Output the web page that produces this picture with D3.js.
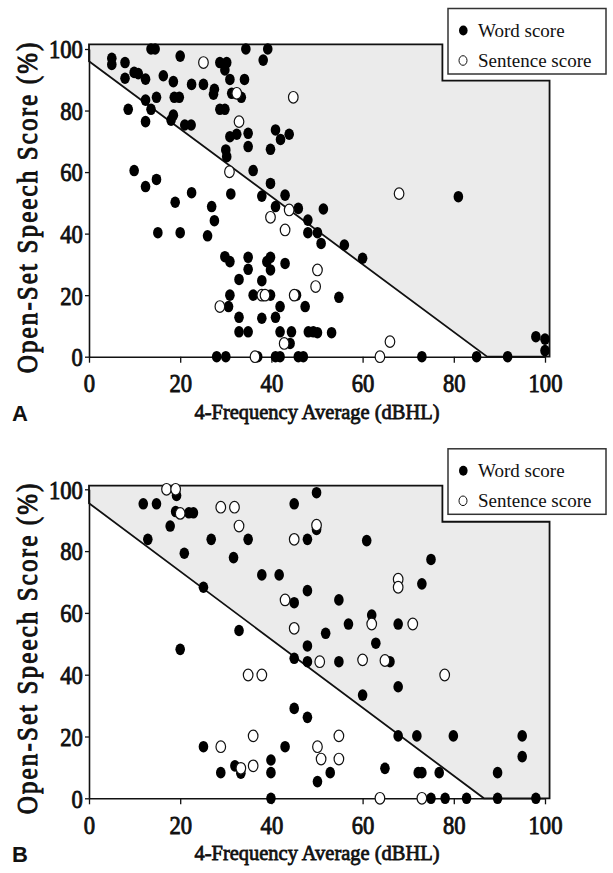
<!DOCTYPE html>
<html>
<head>
<meta charset="utf-8">
<script src="https://cdn.jsdelivr.net/npm/d3@7"></script>
<style>
  body { margin: 0; background: #fff; }
  svg { display: block; }
</style>
</head>
<body>
<script>
// [4-frequency average dBHL, open-set score %]
const wordA = [
  [5,97],[5,95],[7.9,95.6],[7.9,90.5],[9.9,92.4],[10.8,92],[12.4,90.2],[12.4,83.4],[13.6,100],[14.5,100],
  [14.8,84.3],[13.6,80.4],[8.6,80.4],[12.4,76.4],[16.3,91.3],[18.5,89.4],[18.7,84.3],[19.8,84.3],[18.5,78.5],[18,76.9],
  [20,97.7],[21,75.3],[22.4,75.3],[22.5,88.5],[25.1,88.5],[27.5,86.9],[27.3,85.3],[28.7,95.6],[30.2,95.6],[29.8,93.2],
  [30.9,90.1],[31.3,85.6],[33.4,84.3],[34.1,90.1],[28.7,80.4],[29.8,80.4],[30.9,71.5],[32.4,72.3],[34.9,72.6],[34.9,68.3],
  [30,67.2],[30.2,65],[36,60.5],[39.8,67.4],[40.9,73.7],[42,70.6],[43.9,72.3],[39.8,56.3],[37.9,52.2],[43,52.5],
  [40.9,48.8],[45.9,48.2],[48,44.4],[48,40.3],[31.1,52.9],[34.4,100],[39.2,100],[38.2,96.4],[9.9,60.5],[12.4,55.3],
  [14.8,57.6],[18.9,50.2],[22.5,53.3],[26.9,48.8],[27.5,44.2],[15.1,40.3],[20,40.3],[26,39.3],[29.8,32.5],[30.9,30.9],
  [34.9,32.3],[34.9,28.4],[32.9,25.1],[39,30.9],[39.8,32.3],[39.8,28.2],[43,30.3],[37.9,24.7],[30.9,20],[36,20],
  [39.8,20],[30.6,16.3],[32.9,12.8],[37.9,12.5],[40.9,12.8],[41.9,16.3],[45.5,20],[47.4,16.3],[32.9,8.1],[34.9,8.1],
  [41.9,8.1],[44.4,8.1],[44.1,4.3],[48.1,8.1],[49.2,8.1],[28,0],[30,0],[37,0],[40.9,0],[41.9,0],
  [45.9,0],[47,0],[81,52],[51.4,48],[50.1,40.3],[50.9,36.8],[56,36.3],[60,32],[54.8,19.3],[50.1,7.8],
  [53.2,7.8],[73,0],[85,0],[91.8,0],[98,6.5],[100,5.7],[100,2]
];
const sentA = [
  [25.1,95.6],[32.9,76.4],[30.8,60.1],[43.9,47.7],[39.8,45.3],[43,41.2],[28.7,16.3],[37.9,20],[38.6,20],[45,20],
  [50.1,28.2],[49.7,22.8],[68,53],[66,4.9],[63.8,0],[44.8,84.3],[36.4,0],[32.4,85.6],[42.8,4.3]
];
const wordB = [
  [11.9,95.3],[14.8,95.3],[19.2,98],[19,92.8],[21.9,92.4],[22.9,92.4],[17.8,88.1],[12.9,83.8],[20.9,79.3],[26.8,83.8],
  [34.9,83.8],[31.7,77.9],[37.9,72.3],[41.7,72.3],[25.1,68.3],[32.9,54.3],[20,48.2],[45,95.3],[49.9,98.9],[47.9,83.8],
  [49.9,87],[47.9,67.2],[45,63.3],[47.9,49.3],[45,45.3],[47.9,44.2],[45,29.1],[47.9,26.2],[25.1,16.7],[43,16.7],
  [28.9,8.3],[32,10.5],[33.3,8.1],[39.9,12.4],[39.9,8.3],[39.9,0],[60.9,83.4],[75,77.3],[73,69.4],[54.8,64.2],
  [62,59.3],[56.9,56.4],[67.8,56.4],[51.9,53.4],[62.9,50.2],[54.8,44.2],[60,44.8],[66,44.2],[67.8,36.1],[60,33.4],
  [67.8,20.2],[71.9,20.2],[79.9,20.2],[95,20.2],[95,13.5],[52.9,8.3],[50.1,5.4],[64.9,9.7],[72.2,8.3],[73,8.3],
  [76.8,8.3],[89.6,8.3],[75,0],[78.1,0],[82.8,0],[89.6,0],[98,0]
];
const sentB = [
  [17,100],[19,100],[20,92.2],[28.9,94.2],[31.9,94.2],[32.9,88.1],[45,83.8],[43,64.2],[45,55],[50.6,44.2],
  [34.9,39.9],[37.9,39.9],[36,20.2],[28.9,16.7],[33.3,9.7],[36,10.5],[67.8,70.9],[67.8,68.3],[62,56.4],[71,56.4],
  [60,44.8],[64.9,44.6],[78,39.9],[54.8,20.2],[50.1,16.7],[50.9,12.7],[54.8,12.7],[63.8,0],[73,0],[49.9,88.4]
];
const tickValues = [0, 20, 40, 60, 80, 100];
// outline of the shaded region (data units); last -> first edge is the diagonal
const regionA = [[0,96],[0,101.5],[77.5,101.5],[77.5,89.7],[101,89.7],[101,0],[87.3,0]];
const regionB = [[0,95.5],[0,101.2],[77.5,101.2],[77.5,89.5],[101,89.5],[101,0],[86.6,0]];
const legendLabels = ["Word score", "Sentence score"];

const serif = "'Liberation Serif', 'Times New Roman', serif";

const svg = d3.select("body").append("svg")
    .attr("width", 613)
    .attr("height", 873);

// bold face is faked with a thin stroke of the same colour
function boldSerif(sel, size, sw) {
  sel.style("font-family", serif)
    .style("font-weight", "normal")
    .style("font-size", size + "px")
    .attr("fill", "#111")
    .attr("stroke", "#111")
    .attr("stroke-width", sw);
}

function drawPanel(top, bottom, words, sents, region, letter) {
  const x = d3.scaleLinear().domain([0, 100]).range([89, 545]);
  const y = d3.scaleLinear().domain([0, 100]).range([bottom, top]);
  const g = svg.append("g");

  // shaded region
  const line = d3.line().x(d => x(d[0])).y(d => y(d[1]));
  g.append("path")
    .attr("d", line(region) + "Z")
    .attr("fill", "#ebebeb")
    .attr("stroke", "#111")
    .attr("stroke-width", 1.8)
    .attr("stroke-linejoin", "miter");

  // axes
  const xAxis = g.append("g")
    .attr("transform", `translate(0,${bottom})`)
    .call(d3.axisBottom(x).tickValues(tickValues).tickSize(6).tickSizeOuter(0));
  xAxis.selectAll("text")
    .attr("y", 17)
    .attr("dy", "0.71em")
    .attr("transform", "scale(0.87,1)");

  const yAxis = g.append("g")
    .attr("transform", "translate(89,0)")
    .call(d3.axisLeft(y).tickValues(tickValues).tickSize(4).tickPadding(3).tickSizeOuter(0));
  yAxis.selectAll("text")
    .attr("dy", "0.34em")
    .attr("transform", "scale(0.87,1)");

  g.selectAll(".domain").attr("stroke", "#111").attr("stroke-width", 1.6);
  g.selectAll(".tick line").attr("stroke", "#111").attr("stroke-width", 1.3);
  g.selectAll(".tick text").call(boldSerif, 26, 0.9);

  // points
  g.append("g").selectAll("ellipse")
    .data(words)
    .join("ellipse")
    .attr("cx", d => x(d[0]))
    .attr("cy", d => y(d[1]))
    .attr("rx", 4.8)
    .attr("ry", 5.8)
    .attr("fill", "#000");

  g.append("g").selectAll("ellipse")
    .data(sents)
    .join("ellipse")
    .attr("cx", d => x(d[0]))
    .attr("cy", d => y(d[1]))
    .attr("rx", 4.8)
    .attr("ry", 5.8)
    .attr("fill", "#fff")
    .attr("stroke", "#111")
    .attr("stroke-width", 1.2);

  // axis titles
  g.append("text")
    .attr("transform", `translate(317,${bottom + 62}) scale(0.93,1)`)
    .attr("text-anchor", "middle")
    .call(boldSerif, 22, 0.8)
    .text("4-Frequency Average (dBHL)");

  g.append("text")
    .attr("transform", `translate(37,${(top + bottom) / 2 + 4}) rotate(-90) scale(0.86,1)`)
    .attr("text-anchor", "middle")
    .call(boldSerif, 29, 1)
    .style("letter-spacing", "2.5px")
    .text("Open-Set Speech Score (%)");

  // panel letter
  g.append("text")
    .attr("x", 12)
    .attr("y", bottom + 64)
    .style("font-family", "'Liberation Sans', Arial, sans-serif")
    .style("font-weight", "bold")
    .style("font-size", "22px")
    .attr("fill", "#111")
    .text(letter);

  // legend
  const lg = g.append("g").attr("transform", `translate(448,${top - 40.5})`);
  lg.append("rect")
    .attr("width", 158)
    .attr("height", 65.5)
    .attr("fill", "#fff")
    .attr("stroke", "#333")
    .attr("stroke-width", 1.5);
  lg.append("ellipse")
    .attr("cx", 15.3).attr("cy", 22).attr("rx", 4.3).attr("ry", 5)
    .attr("fill", "#000");
  lg.append("ellipse")
    .attr("cx", 15).attr("cy", 52).attr("rx", 4).attr("ry", 4.8)
    .attr("fill", "#fff").attr("stroke", "#111").attr("stroke-width", 1);
  lg.selectAll("text.leg")
    .data(legendLabels)
    .join("text")
    .attr("class", "leg")
    .attr("x", 30)
    .attr("y", (d, i) => 28 + i * 30)
    .style("font-family", serif)
    .style("font-size", "19px")
    .attr("fill", "#111")
    .text(d => d);
}

drawPanel(49, 356.7, wordA, sentA, regionA, "A");
drawPanel(489.3, 798.3, wordB, sentB, regionB, "B");
</script>
</body>
</html>
